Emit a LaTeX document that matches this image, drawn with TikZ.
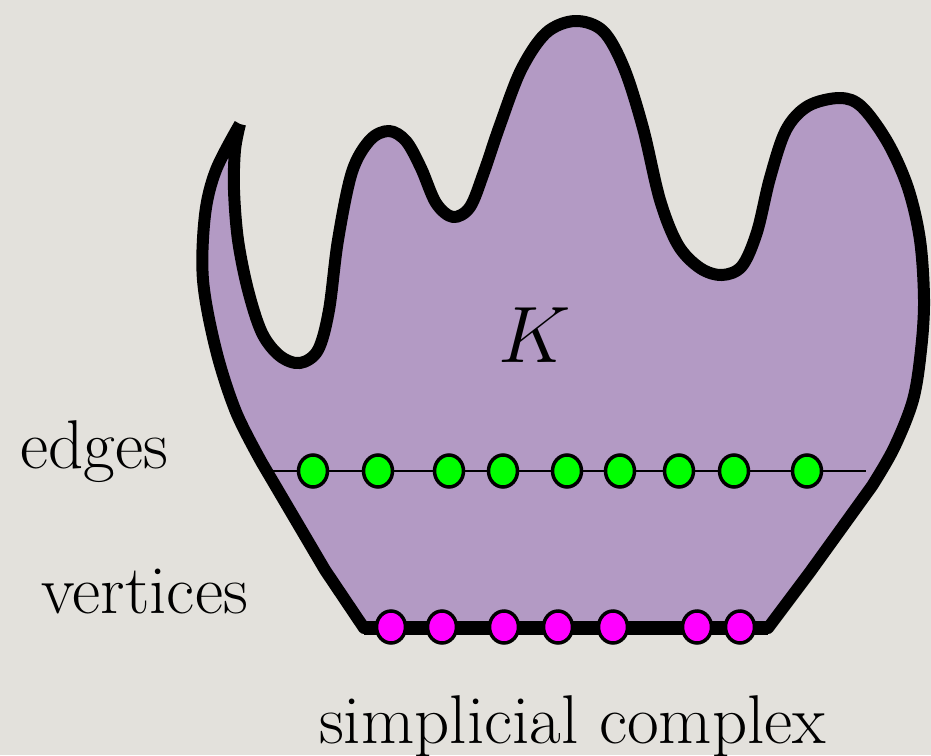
\RequirePackage{fix-cm}
\documentclass[tikz,border=0pt]{standalone}
\usetikzlibrary{shapes.geometric}
\definecolor{bgc}{RGB}{227,225,220}
\definecolor{kfill}{RGB}{179,154,196}
\definecolor{vgreen}{RGB}{0,255,0}
\definecolor{vmag}{RGB}{255,0,255}
\tikzset{
  outline/.style={draw=black, line width=12pt, fill=kfill, line join=round, line cap=butt},
  edgeline/.style={draw=black, line width=2.5pt},
  baseline/.style={draw=black, line width=14pt},
  gdot/.style={ellipse, draw=black, line width=3.5pt, fill=vgreen, minimum width=29pt, minimum height=32pt, inner sep=0pt},
  mdot/.style={ellipse, draw=black, line width=3.5pt, fill=vmag, minimum width=29pt, minimum height=32pt, inner sep=0pt},
  lbl/.style={inner sep=0pt, font=\fontsize{69}{72}\selectfont}
}
\begin{document}
\begin{tikzpicture}[x=1pt,y=-1pt]
\useasboundingbox (0,0) rectangle (931,755);
\fill[bgc] (0,0) rectangle (931,755);
% shape K (open stroke at the top-left tip; the fill closes it)
\path[outline]
  plot[smooth, tension=0.55] coordinates {
    (240,124) (235,150) (234,190) (238,240) (248,290) (262,333) (280,356) (300,363)
    (318,350) (329,310) (338,240) (352,172) (370,140) (389,131) (406,141)
    (421,168) (436,203) (453,217) (470,207) (484,172) (500,125) (521,70)
    (546,33) (575,21) (603,31) (624,68) (643,128) (660,200) (678,245)
    (700,268) (722,275) (742,266) (757,232) (770,178) (786,130) (808,106)
    (840,98) (862,107) (888,143) (908,188) (920,240) (924,300) (921,350)
    (913,400) (894,448) (872,486)}
  -- (810,572) -- (768,628) -- (364,628) -- (325,570)
  -- plot[smooth, tension=0.55] coordinates {
    (262,463) (236,412) (216,350) (203,280) (205,215) (216,170) (240,124)};
% bottom edge (vertices line)
\coordinate (bl) at (364,628);
\coordinate (br) at (768,628);
\draw[baseline] (bl) -- (br);
% edges line
\coordinate (el) at (270,471);
\coordinate (er) at (866,471);
\draw[edgeline] (el) -- (er);
% green dots
\foreach \n/\x in {1/313,2/378,3/449,4/503,5/567,6/620,7/679,8/734,9/807}
  \node[gdot] (g\n) at (\x,471) {};
% magenta dots
\foreach \n/\x in {1/391,2/442,3/504,4/558,5/613,6/697,7/740}
  \node[mdot] (m\n) at (\x,627) {};
% labels
\node[inner sep=0pt, font=\fontsize{80}{84}\selectfont] (K) at (535,335) {$K$};
\node[lbl, anchor=base west] (edges) at (20,468) {edges};
\node[lbl, anchor=base west] (vertices) at (41,613) {vertices};
\node[lbl, anchor=base west] (sc) at (319,743) {simplicial complex};
\end{tikzpicture}
\end{document}
